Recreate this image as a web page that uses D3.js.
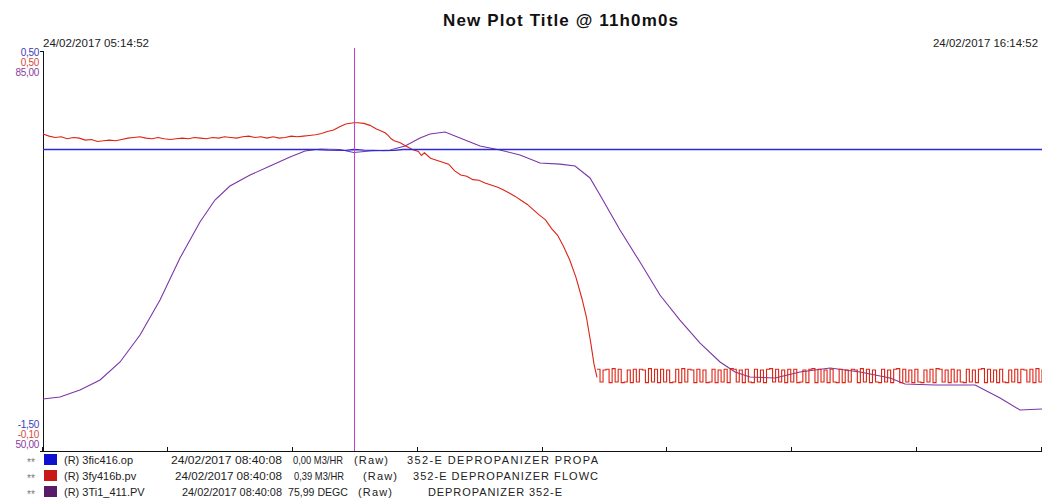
<!DOCTYPE html>
<html>
<head>
<meta charset="utf-8">
<script src="https://cdn.jsdelivr.net/npm/d3@7"></script>
<style>
  html, body { margin: 0; padding: 0; background: #fff; }
  svg { display: block; font-family: "Liberation Sans", Arial, sans-serif; }
</style>
</head>
<body>
<svg id="chart" width="1042" height="501"></svg>
<script>
// Trend window: 11 hours starting 24/02/2017 05:14:52
const startTime = new Date(2017, 1, 24, 5, 14, 52);
const endTime = new Date(2017, 1, 24, 16, 14, 52);
const cursorMinute = 205.27; // 08:40:08

// Axis ranges per pen
const blueRange = [-1.5, 0.5];
const redRange = [-0.1, 0.5];
const purpleRange = [50, 85];
const blueTickLabels = ["0,50", "-1,50"];
const redTickLabels = ["0,50", "-0,10"];
const purpleTickLabels = ["85,00", "50,00"];

// 3fic416.op — output (minutes from start, M3/HR)
const blueMinutes = [0, 100, 180, 188, 200, 205.27, 212, 225, 232, 238, 660];
const blueValues  = [0, 0, 0, -0.003, -0.004, 0, -0.003, -0.006, -0.004, 0, 0];

// 3fy416b.pv — flow before the valve starts cycling (minutes, M3/HR)
const redMinutes = [0,4,8,12,16,20,24,28,32,36,40,44,48,52,56,60,64,68,72,76,80,84,88,92,96,100,104,108,112,116,120,124,128,132,136,140,144,148,152,156,160,164,168,172,176,180,184,188,192,196,200,205.27,208,212,216,220,223,226,228,230,232,236,240,244,248,250,252,256,260,264,268,272,276,280,284,288,292,296,300,304,308,312,316,320,324,328,332,336,340,344,348,352,356,359,362,364,366];
const redValues = [0.373,0.370,0.368,0.369,0.366,0.368,0.367,0.364,0.365,0.362,0.363,0.364,0.363,0.365,0.367,0.368,0.369,0.367,0.366,0.368,0.366,0.365,0.366,0.367,0.366,0.368,0.367,0.366,0.368,0.367,0.369,0.368,0.367,0.369,0.370,0.368,0.369,0.367,0.369,0.367,0.368,0.370,0.369,0.370,0.371,0.372,0.374,0.377,0.379,0.384,0.388,0.390,0.390,0.389,0.386,0.381,0.378,0.375,0.371,0.366,0.363,0.360,0.355,0.350,0.347,0.341,0.345,0.337,0.334,0.331,0.328,0.318,0.312,0.310,0.305,0.304,0.300,0.297,0.294,0.290,0.285,0.280,0.274,0.268,0.260,0.252,0.245,0.232,0.222,0.205,0.185,0.160,0.128,0.100,0.060,0.030,0.010];

// 3fy416b.pv — cycling flow, one stored reading every 2 minutes from minute 366
const redCycleStart = 366;
const redCycleStep = 2;
const redCycleValues = [
  0.022,0.003,0.021,0.022,0.002,0.023,0.003,0.022,0.002,0.003,0.021,0.002,0.022,0.003,0.022,0.021,0.002,0.023,0.003,0.022,
  0.002,0.022,0.003,0.021,0.002,0.003,0.022,0.002,0.023,0.003,0.022,0.021,0.002,0.022,0.003,0.021,0.002,0.003,0.022,0.002,
  0.021,0.003,0.022,0.002,0.023,0.022,0.003,0.021,0.002,0.022,0.003,0.002,0.022,0.003,0.021,0.002,0.022,0.023,0.003,0.022,
  0.003,0.021,0.002,0.022,0.003,0.022,0.002,0.003,0.021,0.002,0.022,0.023,0.002,0.022,0.003,0.021,0.002,0.022,0.003,0.002,
  0.022,0.002,0.021,0.003,0.022,0.021,0.002,0.023,0.003,0.022,0.002,0.021,0.003,0.002,0.022,0.003,0.021,0.002,0.022,0.023,
  0.002,0.022,0.003,0.021,0.002,0.022,0.003,0.002,0.021,0.003,0.022,0.002,0.023,0.022,0.003,0.021,0.002,0.022,0.003,0.021,
  0.003,0.002,0.022,0.003,0.021,0.002,0.022,0.023,0.002,0.022,0.003,0.021,0.002,0.022,0.003,0.002,0.021,0.003,0.022,0.002,
  0.022,0.021,0.003,0.022,0.002,0.023,0.003,0.022
];

// 3Ti1_411.PV — temperature (minutes, DEGC)
const purpleMinutes = [0,11.2,24.4,37.7,50.9,64.1,77.3,90.5,103.7,113.6,123.5,136.8,150,163.2,173.1,183,196.2,205.27,216,229.3,239.2,249.1,255.7,265.6,275.5,288.7,301.9,315.1,328.4,341.6,351.5,361.4,368,381.2,394.4,407.6,420.8,434.1,447.3,457.2,467.1,483.6,500.1,520,539.8,559.6,569.5,589.3,615.8,632.3,645.5,660];
const purpleValues = [54.53,54.70,55.31,56.18,57.75,60.10,63.15,66.80,69.94,71.85,73.07,74.03,74.81,75.60,76.12,76.29,76.25,75.99,76.12,76.21,76.56,77.25,77.60,77.77,77.25,76.56,76.21,75.77,75.07,74.98,74.81,73.77,72.29,69.24,66.45,63.58,61.40,59.40,57.75,56.88,56.44,56.36,56.88,57.23,56.88,56.36,55.83,55.75,55.75,54.61,53.57,53.66];

// Legend rows
const legendTags = ["(R) 3fic416.op", "(R) 3fy416b.pv", "(R) 3Ti1_411.PV"];
const legendStamps = ["24/02/2017 08:40:08", "24/02/2017 08:40:08", "24/02/2017 08:40:08"];
const legendReadings = ["0,00 M3/HR", "0,39 M3/HR", "75,99 DEGC"];
const legendModes = ["(Raw)", "(Raw)", "(Raw)"];
const legendDescriptions = ["352-E DEPROPANIZER PROPA", "352-E DEPROPANIZER FLOWC", "DEPROPANIZER 352-E"];

const titleText = "New Plot Title  @ 11h0m0s";
const startLabel = "24/02/2017  05:14:52";
const endLabel = "24/02/2017  16:14:52";

// ---- drawing ----
const svg = d3.select("#chart");
const plotLeft = 43, plotRight = 1042, plotTop = 49, plotBottom = 451;

const toDate = m => new Date(startTime.getTime() + m * 60000);
const x = d3.scaleTime().domain([startTime, endTime]).range([plotLeft, plotRight]);
const yBlue = d3.scaleLinear().domain(blueRange).range([plotBottom, plotTop]);
const yRed = d3.scaleLinear().domain(redRange).range([plotBottom, plotTop]);
const yPurple = d3.scaleLinear().domain(purpleRange).range([plotBottom, plotTop]);

const colBlue = "#2b2bd6", colRed = "#dc2414", colPurple = "#7a36a8", colCursor = "#c83ccc";

// Title and time span labels
svg.append("text").attr("x", 443).attr("y", 26).attr("font-size", 17).attr("font-weight", "bold")
  .attr("fill", "#111").attr("textLength", 235).attr("lengthAdjust", "spacing").text(titleText);
svg.append("text").attr("x", 43).attr("y", 47).attr("font-size", 11).attr("fill", "#222")
  .attr("textLength", 106).attr("lengthAdjust", "spacingAndGlyphs").text(startLabel);
svg.append("text").attr("x", 933).attr("y", 47).attr("font-size", 11).attr("fill", "#222")
  .attr("textLength", 105).attr("lengthAdjust", "spacingAndGlyphs").text(endLabel);

// Pen range labels on the left
const rangeCols = ["#3c3cb4", "#d84a3c", "#8a3c9c"];
const topLabels = [blueTickLabels[0], redTickLabels[0], purpleTickLabels[0]];
const bottomLabels = [blueTickLabels[1], redTickLabels[1], purpleTickLabels[1]];
topLabels.forEach((t, i) => {
  svg.append("text").attr("x", 39).attr("y", 56 + i * 10).attr("text-anchor", "end")
    .attr("font-size", 10).attr("fill", rangeCols[i]).attr("letter-spacing", -0.3).text(t);
});
bottomLabels.forEach((t, i) => {
  svg.append("text").attr("x", 39).attr("y", 428 + i * 10).attr("text-anchor", "end")
    .attr("font-size", 10).attr("fill", rangeCols[i]).attr("letter-spacing", -0.3).text(t);
});

// Axes
const axisG = svg.append("g").attr("stroke", "#111").attr("stroke-width", 1).attr("shape-rendering", "crispEdges");
axisG.append("line").attr("x1", plotLeft + 0.5).attr("x2", plotLeft + 0.5).attr("y1", plotTop + 2).attr("y2", plotBottom);
axisG.append("line").attr("x1", plotLeft - 3).attr("x2", plotLeft + 1).attr("y1", plotTop + 2.5).attr("y2", plotTop + 2.5);
axisG.append("line").attr("x1", 40).attr("x2", plotRight).attr("y1", plotBottom + 0.5).attr("y2", plotBottom + 0.5);
const tickTimes = d3.range(0, 9).map(i => toDate(i * 82.5));
axisG.selectAll("line.tick").data(tickTimes).join("line").attr("class", "tick")
  .attr("x1", d => Math.round(x(d)) - 0.5).attr("x2", d => Math.round(x(d)) - 0.5)
  .attr("y1", plotBottom - 4).attr("y2", plotBottom);

// Pens
const mk = (ys) => d3.line().x(d => x(toDate(d[0]))).y(d => ys(d[1]));
const bluePts = blueMinutes.map((m, i) => [m, blueValues[i]]);
const redPts = redMinutes.map((m, i) => [m, redValues[i]]);
const redCyclePts = redCycleValues.map((v, i) => [redCycleStart + i * redCycleStep, v]);
const purplePts = purpleMinutes.map((m, i) => [m, purpleValues[i]]);

svg.append("path").attr("d", mk(yPurple)(purplePts)).attr("fill", "none").attr("stroke", colPurple).attr("stroke-width", 1.1);
svg.append("path").attr("d", mk(yRed)(redPts)).attr("fill", "none").attr("stroke", colRed).attr("stroke-width", 1.1);
// the cycling section is stored as held values, so it is drawn as steps
svg.append("path").attr("d", mk(yRed).curve(d3.curveStepAfter)(redCyclePts))
  .attr("fill", "none").attr("stroke", colRed).attr("stroke-width", 1.1);
svg.append("path").attr("d", mk(yBlue)(bluePts)).attr("fill", "none").attr("stroke", colBlue).attr("stroke-width", 1.3);

// Cursor
const cx = Math.round(x(toDate(cursorMinute))) + 0.5;
svg.append("line").attr("x1", cx).attr("x2", cx).attr("y1", plotTop - 1).attr("y2", plotBottom)
  .attr("stroke", colCursor).attr("stroke-width", 1);

// Legend
const swatchCols = ["#1010d0", "#c81818", "#5a1a6a"];
const rowY = [464, 480, 496];
const stampX = [171, 175, 182], stampW = [111, 107, 100];
const readX = [293, 294, 288], readW = [50, 50, 60];
const modeX = [354, 363, 358];
const descX = [407, 413, 428], descW = [191, 185, 134];
legendTags.forEach((tag, i) => {
  const y = rowY[i];
  svg.append("text").attr("x", 27).attr("y", y + 2).attr("font-size", 10).attr("fill", "#777").text("**");
  svg.append("rect").attr("x", 44).attr("y", y - 10).attr("width", 13).attr("height", 11).attr("fill", swatchCols[i]);
  svg.append("text").attr("x", 64).attr("y", y).attr("font-size", 11).attr("fill", "#222").text(tag);
  svg.append("text").attr("x", stampX[i]).attr("y", y).attr("font-size", 11).attr("fill", "#222")
    .attr("textLength", stampW[i]).attr("lengthAdjust", "spacingAndGlyphs").text(legendStamps[i]);
  svg.append("text").attr("x", readX[i]).attr("y", y).attr("font-size", 11).attr("fill", "#222")
    .attr("textLength", readW[i]).attr("lengthAdjust", "spacingAndGlyphs").text(legendReadings[i]);
  svg.append("text").attr("x", modeX[i]).attr("y", y).attr("font-size", 11).attr("fill", "#222")
    .attr("textLength", 34).attr("lengthAdjust", "spacing").text(legendModes[i]);
  svg.append("text").attr("x", descX[i]).attr("y", y).attr("font-size", 11).attr("fill", "#222")
    .attr("textLength", descW[i]).attr("lengthAdjust", "spacing").text(legendDescriptions[i]);
});
</script>
</body>
</html>
